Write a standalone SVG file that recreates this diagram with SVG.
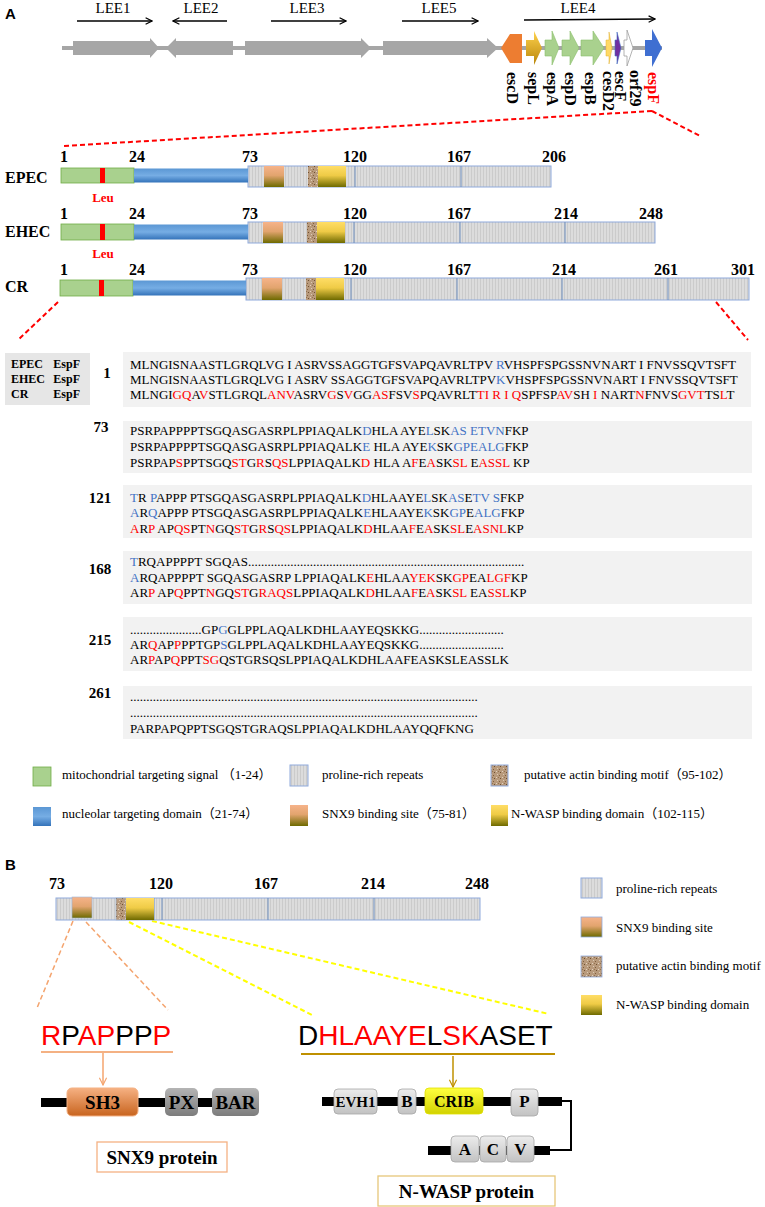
<svg xmlns="http://www.w3.org/2000/svg" width="765" height="1207" viewBox="0 0 765 1207">
<defs>
<pattern id="stripes" width="3" height="10" patternUnits="userSpaceOnUse"><rect width="3" height="10" fill="#dcdcdc"/><rect width="1" height="10" fill="#cbcbcb"/></pattern>
<pattern id="brown" width="6" height="6" patternUnits="userSpaceOnUse"><rect width="6" height="6" fill="#b89a7c"/><rect x="1" y="1" width="1" height="1" fill="#7f5f3f"/><rect x="4" y="3" width="1" height="1" fill="#e2d2bf"/><rect x="2" y="4" width="1" height="1" fill="#6f5030"/><rect x="5" y="0" width="1" height="1" fill="#dccab4"/><rect x="0" y="3" width="1" height="1" fill="#94724f"/></pattern>
<linearGradient id="orangeG" x1="0" y1="0" x2="0" y2="1"><stop offset="0" stop-color="#f6b38a"/><stop offset="0.45" stop-color="#e2a46e"/><stop offset="1" stop-color="#6e6a00"/></linearGradient>
<linearGradient id="yellowG" x1="0" y1="0" x2="0" y2="1"><stop offset="0" stop-color="#ffdd66"/><stop offset="0.45" stop-color="#efcb46"/><stop offset="1" stop-color="#6e6a00"/></linearGradient>
<linearGradient id="blueG" x1="0" y1="0" x2="0" y2="1"><stop offset="0" stop-color="#5b97d4"/><stop offset="0.5" stop-color="#76ade4"/><stop offset="1" stop-color="#3473ba"/></linearGradient>
<linearGradient id="sh3G" x1="0" y1="0" x2="0" y2="1"><stop offset="0" stop-color="#f6b183"/><stop offset="1" stop-color="#c8641e"/></linearGradient>
<linearGradient id="grayG" x1="0" y1="0" x2="0" y2="1"><stop offset="0" stop-color="#b4b4b4"/><stop offset="1" stop-color="#7c7c7c"/></linearGradient>
<linearGradient id="lgrayG" x1="0" y1="0" x2="0" y2="1"><stop offset="0" stop-color="#ececec"/><stop offset="1" stop-color="#c2c2c2"/></linearGradient>
<linearGradient id="cribG" x1="0" y1="0" x2="0" y2="1"><stop offset="0" stop-color="#ffff40"/><stop offset="1" stop-color="#d2d200"/></linearGradient>
<linearGradient id="sepLG" x1="0" y1="0" x2="0" y2="1"><stop offset="0" stop-color="#ffd24d"/><stop offset="1" stop-color="#b8860b"/></linearGradient>
<marker id="openArrow" viewBox="0 0 10 10" refX="9" refY="5" markerWidth="8" markerHeight="8" orient="auto" markerUnits="userSpaceOnUse"><path d="M1,1 L9,5 L1,9" fill="none" stroke="#000" stroke-width="1.5"/></marker>
<marker id="orangeArrow" viewBox="0 0 10 10" refX="9" refY="5" markerWidth="9" markerHeight="9" orient="auto" markerUnits="userSpaceOnUse"><path d="M1,1 L9,5 L1,9" fill="none" stroke="#f4a46e" stroke-width="1.3"/></marker>
<marker id="goldArrow" viewBox="0 0 10 10" refX="9" refY="5" markerWidth="9" markerHeight="9" orient="auto" markerUnits="userSpaceOnUse"><path d="M1,1 L9,5 L1,9" fill="none" stroke="#bf9000" stroke-width="1.3"/></marker>
</defs>
<style>
.panel{font-family:"Liberation Sans",Arial,sans-serif;font-weight:bold;font-size:15px}
.lee{font-family:"Liberation Serif",serif;font-size:15px;text-anchor:middle}
.gene{font-family:"Liberation Serif",serif;font-size:16px;font-weight:bold}
.num{font-family:"Liberation Serif",serif;font-size:16px;font-weight:bold;text-anchor:middle}
.rowlab{font-family:"Liberation Serif",serif;font-size:16px;font-weight:bold}
.leu{font-family:"Liberation Serif",serif;font-size:13px;font-weight:bold;fill:#ff0000;text-anchor:middle}
.seq{font-family:"Liberation Serif",serif;font-size:13px;fill:#000}
.b{fill:#4472c4}
.r{fill:#ff0000}
.bnum{font-family:"Liberation Serif",serif;font-size:15px;font-weight:bold;text-anchor:middle}
.splab{font-family:"Liberation Serif",serif;font-size:12px;font-weight:bold}
.leg{font-family:"Liberation Serif","Noto Sans CJK SC",serif;font-size:13px}
.grayrep{fill:url(#stripes);stroke:#8faadc;stroke-width:1}
.div{stroke:#6f8fbf;stroke-width:1}
.green{fill:#a9d18e;stroke:#70ad47;stroke-width:0.8}
.blue{fill:url(#blueG)}
.snx{fill:url(#orangeG)}
.actin{fill:url(#brown)}
.nwasp{fill:url(#yellowG)}
.redline{stroke:#ff0000;stroke-width:2;stroke-dasharray:5 3;fill:none}
.seqbox{fill:#f2f2f2}
.big{font-family:"Liberation Sans",Arial,sans-serif;font-size:28px}
.dom{font-family:"Liberation Serif",serif;font-weight:bold;text-anchor:middle;fill:#000}
.ptitle{font-family:"Liberation Serif",serif;font-weight:bold;font-size:19px;text-anchor:middle}
</style>
<rect width="765" height="1207" fill="#ffffff"/>

<text class="panel" x="5" y="19">A</text>

<g id="lee-arrows" stroke="#000" stroke-width="1.6" fill="none">
<line x1="77" y1="21" x2="152" y2="21" marker-end="url(#openArrow)"/>
<line x1="227" y1="21" x2="173" y2="21" marker-end="url(#openArrow)"/>
<line x1="271" y1="21" x2="346" y2="21" marker-end="url(#openArrow)"/>
<line x1="402" y1="21" x2="478" y2="21" marker-end="url(#openArrow)"/>
<line x1="524" y1="20" x2="655" y2="19" marker-end="url(#openArrow)"/>
</g>
<g id="lee-labels">
<text class="lee" x="113" y="13">LEE1</text>
<text class="lee" x="201" y="13">LEE2</text>
<text class="lee" x="307" y="13">LEE3</text>
<text class="lee" x="439" y="13">LEE5</text>
<text class="lee" x="578" y="13">LEE4</text>
</g>

<g id="gene-map">
<rect x="62" y="46" width="600" height="4" fill="#a6a6a6"/>
<polygon points="73,41 150,41 150,38 159,48 150,58 150,55 73,55" fill="#a6a6a6"/>
<polygon points="233,41 176,41 176,38 166,48 176,58 176,55 233,55" fill="#a6a6a6"/>
<polygon points="245,41 361,41 361,38 371,48 361,58 361,55 245,55" fill="#a6a6a6"/>
<polygon points="383,41 487,41 487,38 498,48 487,58 487,55 383,55" fill="#a6a6a6"/>
<polygon points="522,34 510,34 501,48 510,63 522,63" fill="#ed7d31"/>
<polygon points="526,40 534,40 534,31 542,48 534,65 534,56 526,56" fill="url(#sepLG)"/>
<polygon points="545,40 552,40 552,31 559,48 552,65 552,56 545,56" fill="#a9d18e" stroke="#8cbf6c" stroke-width="0.6"/>
<polygon points="562,40 570,40 570,31 579,48 570,65 570,56 562,56" fill="#a9d18e" stroke="#8cbf6c" stroke-width="0.6"/>
<polygon points="581,40 593,40 593,31 604,48 593,65 593,56 581,56" fill="#a9d18e" stroke="#8cbf6c" stroke-width="0.6"/>
<polygon points="606,40 609,40 609,32 612,48 609,64 609,56 606,56" fill="#ffd966" stroke="#e0b030" stroke-width="0.5"/>
<polygon points="615,40 617,40 617,32 621,48 617,64 617,56 615,56" fill="#7030a0" stroke="#4472c4" stroke-width="0.6"/>
<polygon points="624,40 627,40 627,30 633,48 627,66 627,56 624,56" fill="#ffffff" stroke="#a0a0a0" stroke-width="0.8"/>
<polygon points="645,40 652,40 652,29 662,48 652,67 652,56 645,56" fill="#3f6fd1"/>
</g>
<g id="gene-labels" class="gene">
<text transform="translate(507,72) rotate(90)">escD</text>
<text transform="translate(528,72) rotate(90)">sepL</text>
<text transform="translate(547,72) rotate(90)">espA</text>
<text transform="translate(565,72) rotate(90)">espD</text>
<text transform="translate(585,72) rotate(90)">espB</text>
<text transform="translate(603,71) rotate(90)">cesD2</text>
<text transform="translate(615,71) rotate(90)">escF</text>
<text transform="translate(630,70) rotate(90)">orf29</text>
<text transform="translate(648,72) rotate(90)" fill="#ff0000">espF</text>
</g>

<g id="connectors">
<line class="redline" x1="652" y1="111" x2="63" y2="146"/>
<line class="redline" x1="652" y1="111" x2="700" y2="136"/>
<line class="redline" x1="58" y1="302" x2="18" y2="340"/>
<line class="redline" x1="716" y1="302" x2="748" y2="340"/>
<line x1="73" y1="921" x2="37" y2="1008" stroke="#f4a46e" stroke-width="1.5" stroke-dasharray="5 3"/>
<line x1="86" y1="922" x2="168" y2="1010" stroke="#f4a46e" stroke-width="1.5" stroke-dasharray="5 3"/>
<line x1="129" y1="922" x2="312" y2="1015" stroke="#ffff00" stroke-width="2" stroke-dasharray="5 3"/>
<line x1="152" y1="921" x2="549" y2="1014" stroke="#ffff00" stroke-width="2" stroke-dasharray="5 3"/>
<line x1="103" y1="1053" x2="103" y2="1085" stroke="#f4a46e" stroke-width="1.5" marker-end="url(#orangeArrow)"/>
<line x1="453" y1="1056" x2="453" y2="1087" stroke="#bf9000" stroke-width="1.5" marker-end="url(#goldArrow)"/>
<path d="M561,1101 H571 V1150 H549" fill="none" stroke="#000" stroke-width="2"/>
</g>

<g id="bar-epec">
<text class="rowlab" x="5" y="183">EPEC</text>
<text class="num" x="64" y="162">1</text>
<text class="num" x="137" y="162">24</text>
<text class="num" x="250" y="162">73</text>
<text class="num" x="355" y="162">120</text>
<text class="num" x="459" y="162">167</text>
<text class="num" x="554" y="162">206</text>
<rect class="grayrep" x="248" y="166" width="303" height="21"/>
<line class="div" x1="355" y1="166" x2="355" y2="187"/>
<line class="div" x1="461" y1="166" x2="461" y2="187"/>
<rect class="green" x="61" y="168" width="73" height="15"/>
<rect class="blue" x="134" y="168.5" width="114" height="14"/>
<rect x="100" y="168" width="5" height="15" fill="#ff0000"/>
<rect class="snx" x="264" y="166" width="20" height="21"/>
<rect class="actin" x="308" y="166" width="10" height="21"/>
<rect class="nwasp" x="318" y="166" width="28" height="21"/>
<text class="leu" x="103" y="202">Leu</text>
</g>

<g id="bar-ehec">
<text class="rowlab" x="5" y="237">EHEC</text>
<text class="num" x="64" y="219">1</text>
<text class="num" x="137" y="219">24</text>
<text class="num" x="250" y="219">73</text>
<text class="num" x="355" y="219">120</text>
<text class="num" x="459" y="219">167</text>
<text class="num" x="566" y="219">214</text>
<text class="num" x="651" y="219">248</text>
<rect class="grayrep" x="248" y="222" width="407" height="21"/>
<line class="div" x1="354" y1="222" x2="354" y2="243"/>
<line class="div" x1="460" y1="222" x2="460" y2="243"/>
<line class="div" x1="565" y1="222" x2="565" y2="243"/>
<rect class="green" x="61" y="224" width="73" height="16"/>
<rect class="blue" x="134" y="224.5" width="114" height="15"/>
<rect x="100" y="224" width="5" height="16" fill="#ff0000"/>
<rect class="snx" x="263" y="222" width="20" height="21"/>
<rect class="actin" x="307" y="222" width="10" height="21"/>
<rect class="nwasp" x="317" y="222" width="28" height="21"/>
<text class="leu" x="103" y="258">Leu</text>
</g>

<g id="bar-cr">
<text class="rowlab" x="5" y="292">CR</text>
<text class="num" x="64" y="275">1</text>
<text class="num" x="137" y="275">24</text>
<text class="num" x="250" y="275">73</text>
<text class="num" x="355" y="275">120</text>
<text class="num" x="459" y="275">167</text>
<text class="num" x="564" y="275">214</text>
<text class="num" x="666" y="275">261</text>
<text class="num" x="743" y="275">301</text>
<rect class="grayrep" x="246" y="278" width="503" height="22"/>
<line class="div" x1="351" y1="278" x2="351" y2="300"/>
<line class="div" x1="457" y1="278" x2="457" y2="300"/>
<line class="div" x1="562" y1="278" x2="562" y2="300"/>
<line class="div" x1="668" y1="278" x2="668" y2="300"/>
<rect class="green" x="60" y="280" width="73" height="16"/>
<rect class="blue" x="133" y="280.5" width="113" height="15"/>
<rect x="99" y="280" width="5" height="16" fill="#ff0000"/>
<rect class="snx" x="262" y="278" width="20" height="22"/>
<rect class="actin" x="306" y="278" width="10" height="22"/>
<rect class="nwasp" x="316" y="278" width="28" height="22"/>
</g>

<g id="alignment">
<rect x="5" y="353" width="85" height="52" fill="#e6e6e6"/>
<text class="splab" x="11" y="368">EPEC</text><text class="splab" x="80" y="368" text-anchor="end">EspF</text>
<text class="splab" x="11" y="383">EHEC</text><text class="splab" x="80" y="383" text-anchor="end">EspF</text>
<text class="splab" x="11" y="398">CR</text><text class="splab" x="80" y="398" text-anchor="end">EspF</text>

<rect class="seqbox" x="123" y="352" width="628" height="55"/>
<rect class="seqbox" x="123" y="421" width="629" height="52"/>
<rect class="seqbox" x="123" y="485" width="629" height="53"/>
<rect class="seqbox" x="123" y="551" width="629" height="53"/>
<rect class="seqbox" x="123" y="617" width="629" height="54"/>
<rect class="seqbox" x="123" y="686" width="629" height="53"/>

<text class="bnum" x="107" y="378">1</text>
<text class="bnum" x="101" y="432">73</text>
<text class="bnum" x="100" y="503">121</text>
<text class="bnum" x="100" y="574">168</text>
<text class="bnum" x="100" y="645">215</text>
<text class="bnum" x="100" y="698">261</text>

<text class="seq" x="130" y="369">MLNGISNAASTLGRQLVG I ASRVSSAGGTGFSVAPQAVRLTPV <tspan class="b">R</tspan>VHSPFSPGSSNVNART I FNVSSQVTSFT</text>
<text class="seq" x="130" y="384">MLNGISNAASTLGRQLVG I ASRV SSAGGTGFSVAPQAVRLTPV<tspan class="b">K</tspan>VHSPFSPGSSNVNART I FNVSSQVTSFT</text>
<text class="seq" x="130" y="399">MLNGI<tspan class="r">GQ</tspan>A<tspan class="r">V</tspan>STLGRQL<tspan class="r">ANV</tspan>ASRV<tspan class="r">G</tspan>S<tspan class="r">V</tspan>GG<tspan class="r">AS</tspan>FSV<tspan class="r">S</tspan>PQAVRLT<tspan class="r">TI R I Q</tspan>SPFSP<tspan class="r">AV</tspan>SH <tspan class="r">I</tspan> NART<tspan class="r">N</tspan>FNVS<tspan class="r">GVT</tspan>TS<tspan class="r">L</tspan>T</text>

<text class="seq" x="130" y="435">PSRPAPPPPTSGQASGASRPLPPIAQALK<tspan class="b">D</tspan>HLA AYE<tspan class="b">L</tspan>SK<tspan class="b">AS</tspan> <tspan class="b">ETVN</tspan>FKP</text>
<text class="seq" x="130" y="451">PSRPAPPPPTSGQASGASRPLPPIAQALK<tspan class="b">E</tspan> HLA AYE<tspan class="b">K</tspan>SK<tspan class="b">GPEALG</tspan>FKP</text>
<text class="seq" x="130" y="467">PSRPAP<tspan class="r">S</tspan>PPTSGQ<tspan class="r">ST</tspan>G<tspan class="r">R</tspan>S<tspan class="r">QS</tspan>LPPIAQALK<tspan class="r">D</tspan> HLA A<tspan class="r">F</tspan>E<tspan class="r">A</tspan>SK<tspan class="r">SL</tspan> E<tspan class="r">ASSL</tspan> KP</text>

<text class="seq" x="130" y="502"><tspan class="b">T</tspan>R <tspan class="b">P</tspan>APPP PTSGQASGASRPLPPIAQALK<tspan class="b">D</tspan>HLAAYE<tspan class="b">L</tspan>SK<tspan class="b">AS</tspan>E<tspan class="b">TV S</tspan>FKP</text>
<text class="seq" x="130" y="517"><tspan class="b">A</tspan>R<tspan class="b">Q</tspan>APPP PTSGQASGASRPLPPIAQALK<tspan class="b">E</tspan>HLAAYE<tspan class="b">K</tspan>SK<tspan class="b">GP</tspan>E<tspan class="b">ALG</tspan>FKP</text>
<text class="seq" x="130" y="533"><tspan class="r">A</tspan>R<tspan class="r">P</tspan> AP<tspan class="r">QS</tspan>PT<tspan class="r">N</tspan>GQ<tspan class="r">ST</tspan>G<tspan class="r">R</tspan>S<tspan class="r">QS</tspan>LPPIAQALK<tspan class="r">D</tspan>HLAA<tspan class="r">F</tspan>E<tspan class="r">A</tspan>SK<tspan class="r">SL</tspan>E<tspan class="r">ASNL</tspan>KP</text>

<text class="seq" x="130" y="566"><tspan class="b">T</tspan>RQAPPPPT SGQAS.....................................................................................</text>
<text class="seq" x="130" y="582"><tspan class="b">A</tspan>RQAPPPPT SGQASGASRP LPPIAQALK<tspan class="r">E</tspan>HLAA<tspan class="r">YEK</tspan>SK<tspan class="r">GP</tspan>EA<tspan class="r">LGF</tspan>KP</text>
<text class="seq" x="130" y="597">AR<tspan class="r">P</tspan> AP<tspan class="r">Q</tspan>PPT<tspan class="r">N</tspan>GQ<tspan class="r">ST</tspan>G<tspan class="r">RAQS</tspan>LPPIAQALK<tspan class="r">D</tspan>HLAA<tspan class="r">F</tspan>E<tspan class="r">A</tspan>SK<tspan class="r">SL</tspan> EA<tspan class="r">SSL</tspan>KP</text>

<text class="seq" x="130" y="634">......................GP<tspan class="b">G</tspan>GLPPLAQALKDHLAAYEQSKKG..........................</text>
<text class="seq" x="130" y="649">AR<tspan class="r">Q</tspan>AP<tspan class="r">P</tspan>PPTGP<tspan class="b">S</tspan>GLPPLAQALKDHLAAYEQSKKG..........................</text>
<text class="seq" x="130" y="664">AR<tspan class="r">P</tspan>AP<tspan class="r">Q</tspan>PPT<tspan class="r">SG</tspan>QSTGRSQSLPPIAQALKDHLAAFEASKSLEASSLK</text>

<text class="seq" x="130" y="701">...........................................................................................................</text>
<text class="seq" x="130" y="717">...........................................................................................................</text>
<text class="seq" x="130" y="733">PARPAPQPPTSGQSTGRAQSLPPIAQALKDHLAAYQQFKNG</text>
</g>

<g id="legend-a">
<rect class="green" x="33" y="767" width="18" height="19"/>
<text class="leg" x="62" y="779">mitochondrial targeting signal （1-24）</text>
<rect class="grayrep" x="290" y="765" width="18" height="21"/>
<text class="leg" x="322" y="779">proline-rich repeats</text>
<rect class="actin" x="491" y="765" width="17" height="21" stroke="#8faadc" stroke-width="1"/>
<text class="leg" x="524" y="779">putative actin binding motif（95-102）</text>
<rect class="blue" x="33" y="807" width="18" height="19"/>
<text class="leg" x="62" y="818">nucleolar targeting domain（21-74）</text>
<rect class="snx" x="290" y="805" width="18" height="21"/>
<text class="leg" x="322" y="818">SNX9 binding site（75-81）</text>
<rect class="nwasp" x="491" y="805" width="17" height="21"/>
<text class="leg" x="511" y="818">N-WASP binding domain（102-115）</text>
</g>

<text class="panel" x="5" y="870">B</text>

<g id="bar-b">
<text class="num" x="57" y="889">73</text>
<text class="num" x="161" y="889">120</text>
<text class="num" x="266" y="889">167</text>
<text class="num" x="373" y="889">214</text>
<text class="num" x="477" y="889">248</text>
<rect class="grayrep" x="56" y="898" width="424" height="22"/>
<line class="div" x1="154" y1="898" x2="154" y2="920"/>
<line class="div" x1="162" y1="898" x2="162" y2="920"/>
<line class="div" x1="268" y1="898" x2="268" y2="920"/>
<line class="div" x1="374" y1="898" x2="374" y2="920"/>
<rect class="snx" x="72" y="897" width="20" height="21" stroke="#9db5d8" stroke-width="0.6"/>
<rect class="actin" x="116" y="898" width="10" height="22" stroke="#9db5d8" stroke-width="0.6"/>
<rect class="nwasp" x="126" y="898" width="28" height="22"/>
</g>

<g id="legend-b">
<rect class="grayrep" x="581" y="878" width="21" height="20"/>
<text class="leg" x="616" y="893">proline-rich repeats</text>
<rect class="snx" x="581" y="917" width="21" height="20" stroke="#8faadc" stroke-width="0.8"/>
<text class="leg" x="616" y="932">SNX9 binding site</text>
<rect class="actin" x="581" y="956" width="21" height="21" stroke="#8faadc" stroke-width="0.8"/>
<text class="leg" x="616" y="970">putative actin binding motif</text>
<rect class="nwasp" x="581" y="995" width="21" height="20"/>
<text class="leg" x="616" y="1009">N-WASP binding domain</text>
</g>

<g id="motif-snx9">
<text class="big" x="41" y="1045"><tspan fill="#ff0000">R</tspan>P<tspan fill="#ff0000">AP</tspan>PP<tspan fill="#ff0000">P</tspan></text>
<line x1="41" y1="1052" x2="173" y2="1052" stroke="#f4b183" stroke-width="2"/>
</g>
<g id="motif-nwasp">
<text class="big" x="298" y="1045">D<tspan fill="#ff0000">HLAAYE</tspan>L<tspan fill="#ff0000">SK</tspan>ASET</text>
<line x1="301" y1="1054" x2="555" y2="1054" stroke="#bf9000" stroke-width="2"/>
</g>

<g id="snx9-protein">
<rect x="41" y="1098" width="190" height="9" fill="#000"/>
<rect x="67" y="1088" width="71" height="28" rx="5" fill="url(#sh3G)" stroke="#f4b183" stroke-width="1"/>
<text class="dom" x="102.5" y="1109" font-size="19">SH3</text>
<rect x="165" y="1088" width="33" height="28" rx="5" fill="url(#grayG)"/>
<text class="dom" x="181.5" y="1109" font-size="19">PX</text>
<rect x="212" y="1088" width="47" height="28" rx="5" fill="url(#grayG)"/>
<text class="dom" x="235.5" y="1109" font-size="19">BAR</text>
<rect x="97" y="1142" width="130" height="30" fill="#ffffff" stroke="#f4b183" stroke-width="1.3"/>
<text class="ptitle" x="162" y="1164">SNX9 protein</text>
</g>

<g id="nwasp-protein">
<rect x="322" y="1097" width="240" height="9" fill="#000"/>
<rect x="428" y="1146" width="122" height="9" fill="#000"/>
<rect x="334" y="1089" width="43" height="25" rx="4" fill="url(#lgrayG)" stroke="#a6a6a6" stroke-width="0.8"/>
<text class="dom" x="355.5" y="1107" font-size="15">EVH1</text>
<rect x="398" y="1089" width="18" height="25" rx="4" fill="url(#lgrayG)" stroke="#a6a6a6" stroke-width="0.8"/>
<text class="dom" x="407" y="1107" font-size="17">B</text>
<rect x="425" y="1088" width="58" height="26" rx="4" fill="url(#cribG)" stroke="#e0e000" stroke-width="0.8"/>
<text class="dom" x="454" y="1107" font-size="16">CRIB</text>
<rect x="511" y="1089" width="27" height="27" rx="4" fill="url(#lgrayG)" stroke="#a6a6a6" stroke-width="0.8"/>
<text class="dom" x="524.5" y="1107" font-size="17">P</text>
<rect x="451" y="1136" width="28" height="26" rx="4" fill="url(#lgrayG)" stroke="#a6a6a6" stroke-width="0.8"/>
<text class="dom" x="465" y="1155" font-size="17">A</text>
<rect x="480" y="1136" width="26" height="26" rx="4" fill="url(#lgrayG)" stroke="#a6a6a6" stroke-width="0.8"/>
<text class="dom" x="493" y="1155" font-size="17">C</text>
<rect x="507" y="1136" width="27" height="26" rx="4" fill="url(#lgrayG)" stroke="#a6a6a6" stroke-width="0.8"/>
<text class="dom" x="520.5" y="1155" font-size="17">V</text>
<rect x="378" y="1176" width="177" height="30" fill="#ffffff" stroke="#e6c77a" stroke-width="1.3"/>
<text class="ptitle" x="466.5" y="1198">N-WASP protein</text>
</g>
</svg>
